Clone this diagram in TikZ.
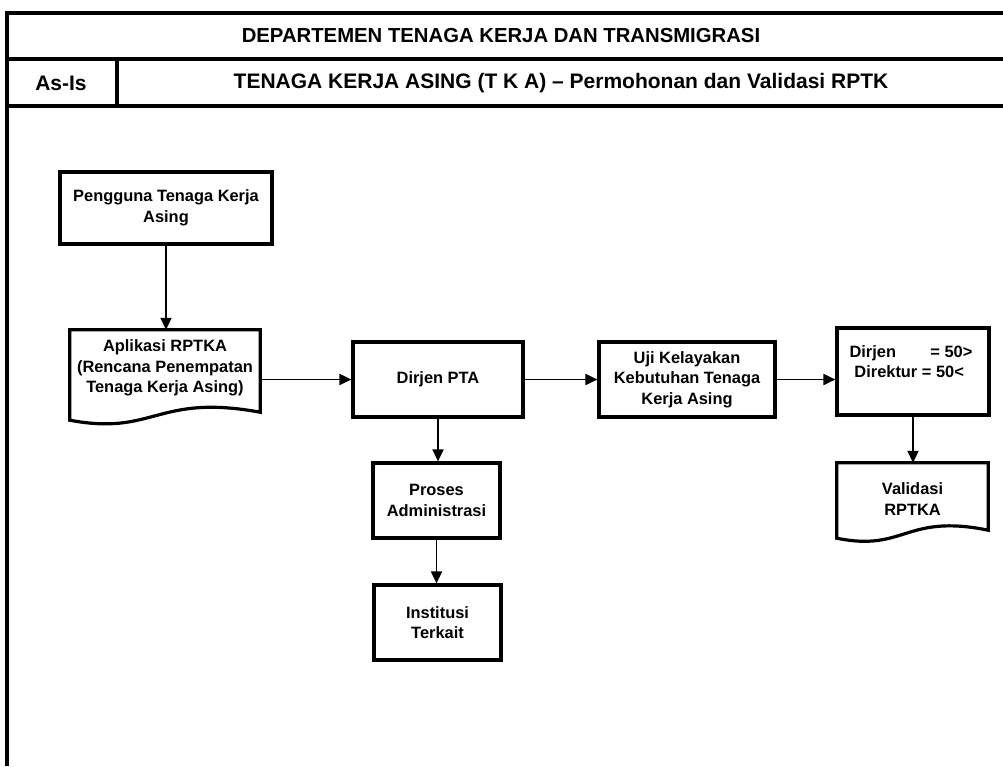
\documentclass[tikz,border=0pt]{standalone}
\usepackage{fontspec}
\setmainfont{Liberation Sans}
\usetikzlibrary{arrows.meta,calc}
\begin{document}
\begin{tikzpicture}[x=1pt,y=-1pt,
  frame/.style={line width=3.2pt},
  nodefont/.style={font=\bfseries\fontsize{16.4}{20.5}\selectfont},
  box/.style={draw, line width=3.2pt, rectangle, inner sep=0pt, align=center, nodefont},
  docbox/.style={rectangle, inner sep=0pt, align=center, nodefont},
  docline/.style={line width=3.2pt, line join=miter},
  arr/.style={-{Triangle[length=12pt,width=11pt]}, line width=1.9pt},
  hdr/.style={font=\bfseries\fontsize{20.3}{23}\selectfont, inner sep=0pt},
  subhdr/.style={font=\bfseries\fontsize{21}{23}\selectfont, inner sep=0pt}]
\useasboundingbox[fill=white] (0,0) rectangle (1003,766);
% frame
\draw[frame] (7,766) -- (7,13) -- (1003,13);
\draw[frame] (7,59) -- (1003,59);
\draw[frame] (7,106) -- (1003,106);
\draw[frame] (117,59) -- (117,106);
\node[hdr] (title) at (501,36) {DEPARTEMEN TENAGA KERJA DAN TRANSMIGRASI};
\node[subhdr] (asis) at (61,83) {As-Is};
\node[subhdr] (subtitle) at (561,83) {TENAGA KERJA ASING (T K A) -- Permohonan dan Validasi RPTK};
% nodes
\node[box, minimum width=212pt, minimum height=72pt] (peng) at (166,208) {Pengguna Tenaga Kerja\\Asing};
\node[docbox, minimum width=190pt, minimum height=82pt] (apl) at (165,371) {};
\node[nodefont, align=center, inner sep=0pt] (apltext) at (165,368) {Aplikasi RPTKA\\(Rencana Penempatan\\Tenaga Kerja Asing)};
\draw[docline] ($(apl.south west)+(0,8)$) -- (apl.north west) -- (apl.north east) -- (apl.south east)
  .. controls ($(apl.south east)+(-104,-19)$) and ($(apl.south west)+(85,24)$) .. ($(apl.south west)+(0,8)$) -- cycle;
\node[box, minimum width=170pt, minimum height=75pt] (dirjon) at (438,379.5) {Dirjen PTA};
\node[box, minimum width=176pt, minimum height=75pt] (uji) at (687,379.5) {Uji Kelayakan\\Kebutuhan Tenaga\\Kerja Asing};
\node[box, minimum width=152pt, minimum height=87pt] (dirjen) at (913,371.5) {};
\node[nodefont, align=left, inner sep=0pt] (dirjentext) at (911,361.5) {Dirjen\hspace{2.1em}= 50>\\\hspace{0.3em}Direktur = 50<};
\node[docbox, minimum width=151pt, minimum height=67pt] (val) at (912.5,496.5) {};
\node[nodefont, align=center, inner sep=0pt] (valtext) at (912.5,499) {Validasi\\RPTKA};
\draw[docline] ($(val.south west)+(0,8)$) -- (val.north west) -- (val.north east) -- (val.south east)
  .. controls ($(val.south east)+(-83,-17)$) and ($(val.south west)+(68,22)$) .. ($(val.south west)+(0,8)$) -- cycle;
\node[box, minimum width=127pt, minimum height=75pt] (proses) at (436.5,500.5) {Proses\\Administrasi};
\node[box, minimum width=127pt, minimum height=75pt] (inst) at (437.5,622.5) {Institusi\\Terkait};
% connectors
\draw[arr] (peng.south) -- (peng.south |- apl.north);
\draw[arr] (apl.east |- dirjon.west) -- (dirjon.west);
\draw[arr] (dirjon.east) -- (uji.west);
\draw[arr] (uji.east) -- (uji.east -| dirjen.west);
\draw[arr] (dirjen.south) -- (dirjen.south |- val.north);
\draw[arr] (dirjon.south) -- (dirjon.south |- proses.north);
\draw[arr] (proses.south) -- (proses.south |- inst.north);
\end{tikzpicture}
\end{document}
